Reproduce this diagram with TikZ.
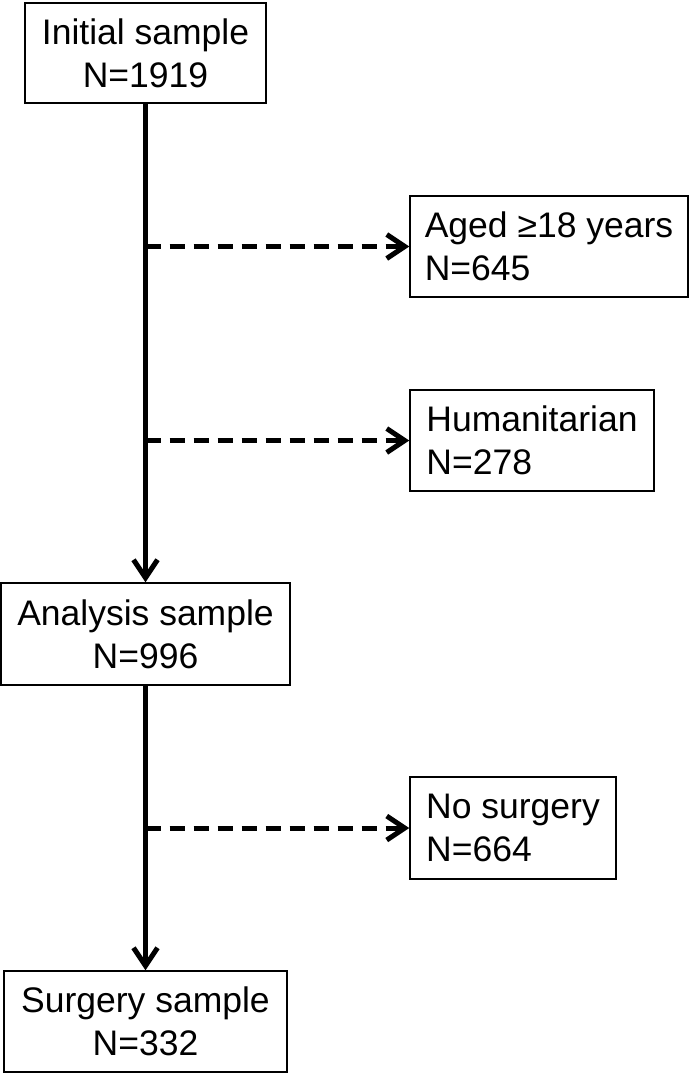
\documentclass[tikz,border=0pt]{standalone}
\usepackage{fontspec}
\setmainfont{Liberation Sans}
\usetikzlibrary{arrows.meta}
\begin{document}
\begin{tikzpicture}[x=1pt,y=1pt,
  box/.style={draw=black, line width=1.5pt, inner sep=0pt, align=center,
    font=\fontsize{35.5}{43}\selectfont},
  lbox/.style={box, align=left},
  flow/.style={line width=5pt, -{Straight Barb[length=18pt,width=24pt]}},
  side/.style={flow, dash pattern=on 15pt off 9pt}]
\useasboundingbox (0,0) rectangle (691,-1073);
\node[box, minimum width=241pt, minimum height=100pt] (b1) at (145.5,-53) {Initial sample\\N=1919};
\node[lbox, minimum width=278pt, minimum height=101pt] (b2) at (549,-246.5) {Aged ≥18 years\\N=645};
\node[lbox, minimum width=244pt, minimum height=101pt] (b3) at (532,-440.5) {Humanitarian\\N=278};
\node[box, minimum width=289pt, minimum height=102pt] (b4) at (145.5,-634) {Analysis sample\\N=996};
\node[lbox, minimum width=206pt, minimum height=102pt] (b5) at (513,-828) {No surgery\\N=664};
\node[box, minimum width=283pt, minimum height=101pt] (b6) at (145.5,-1021.5) {Surgery sample\\N=332};
\draw[flow] (b1.south) -- (b4.north);
\draw[flow] (b4.south) -- (b6.north);
\draw[side] (b1.south |- b2.west) -- (b2.west);
\draw[side] (b1.south |- b3.west) -- (b3.west);
\draw[side] (b4.south |- b5.west) -- (b5.west);
\end{tikzpicture}
\end{document}
